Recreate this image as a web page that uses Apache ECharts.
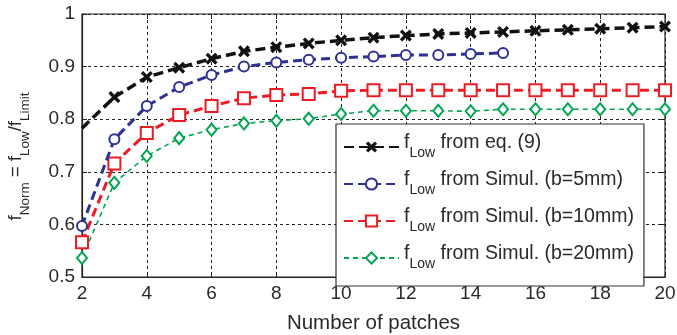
<!DOCTYPE html>
<html><head><meta charset="utf-8">
<script src="https://cdn.jsdelivr.net/npm/echarts@6/dist/echarts.min.js"></script>
<style>html,body{margin:0;padding:0;background:#fff}#c{width:677px;height:335px}</style>
</head><body><div id="c"></div>
<script>
const patchesEq = [2,3,4,5,6,7,8,9,10,11,12,13,14,15,16,17,18,19,20];
const eqValues = [0.783,0.842,0.880,0.898,0.915,0.929,0.937,0.944,0.950,0.955,0.959,0.962,0.964,0.966,0.968,0.970,0.972,0.974,0.976];
const patches5 = [2,3,4,5,6,7,8,9,10,11,12,13,14,15];
const sim5Values = [0.597,0.762,0.825,0.861,0.884,0.900,0.908,0.913,0.917,0.919,0.922,0.922,0.924,0.926];
const patches10 = [2,3,4,5,6,7,8,9,10,11,12,13,14,15,16,17,18,19,20];
const sim10Values = [0.566,0.716,0.774,0.808,0.825,0.840,0.846,0.848,0.854,0.855,0.855,0.855,0.855,0.855,0.855,0.855,0.855,0.855,0.855];
const patches20 = [2,3,4,5,6,7,8,9,10,11,12,13,14,15,16,17,18,19,20];
const sim20Values = [0.536,0.679,0.730,0.764,0.780,0.792,0.797,0.801,0.810,0.816,0.816,0.816,0.815,0.819,0.819,0.819,0.819,0.819,0.819];
const seriesNames = ['eq','s5','s10','s20'];
const legendTexts = {eq:' from eq. (9)', s5:' from Simul. (b=5mm)', s10:' from Simul. (b=10mm)', s20:' from Simul. (b=20mm)'};
const xTicks = {min:2, max:20, step:2};
const yTicks = {min:0.5, max:1, step:0.1};

const FONT = 'Liberation Sans, Arial, sans-serif';
const TXT = '#2a2a2a';
const xPath = 'path://M0,2 L2,0 L5,3 L8,0 L10,2 L7,5 L10,8 L8,10 L5,7 L2,10 L0,8 L3,5 Z';
const pairs = (xs, ys) => xs.map((x,i)=>[x, ys[i]]);
const mkRich = (main, sub, pad, lh) => ({
  a:{fontSize:main, fontFamily:FONT, color:TXT, verticalAlign:'top'},
  s:{fontSize:sub, fontFamily:FONT, color:TXT, verticalAlign:'top', lineHeight:lh, padding:[pad,0,0,0]}
});
const chart = echarts.init(document.getElementById('c'));
const eqData = pairs(patchesEq, eqValues).map((p,i)=> i===0 ? {value:p, symbol:'none'} : p);
chart.setOption({
  animation:false,
  grid:{left:82, right:12, top:14, bottom:58, show:true, borderColor:'#222', borderWidth:1.2,
    containLabel:false, outerBoundsMode:'none'},
  xAxis:[{type:'value', min:xTicks.min, max:xTicks.max, interval:xTicks.step,
    name:'Number of patches', nameLocation:'middle', nameGap:36,
    nameTextStyle:{fontSize:20.5, fontFamily:FONT, color:TXT},
    axisLine:{lineStyle:{color:'#222', width:1.2}},
    axisTick:{inside:true, length:5, lineStyle:{color:'#222'}},
    axisLabel:{fontSize:19, fontFamily:FONT, color:TXT, margin:7},
    splitLine:{lineStyle:{type:[3,3], color:'#222', width:1}}},
   {type:'value', position:'top', min:xTicks.min, max:xTicks.max, interval:xTicks.step,
    axisLine:{show:false}, axisTick:{inside:true, length:5, lineStyle:{color:'#222'}},
    axisLabel:{show:false}, splitLine:{show:false}}],
  yAxis:[{type:'value', min:yTicks.min, max:yTicks.max, interval:yTicks.step,
    name:'{a|f}{s|Norm}{a| = f}{s|Low}{a|/f}{s|Limit}', nameLocation:'middle', nameGap:47.5, nameRotate:90,
    nameTextStyle:{rich:mkRich(18.5, 13.5, 12, 28), padding:[0,22,0,0]},
    axisLine:{lineStyle:{color:'#222', width:1.2}},
    axisTick:{inside:true, length:5, lineStyle:{color:'#222'}},
    axisLabel:{fontSize:19, fontFamily:FONT, color:TXT, margin:7, formatter:v=> Math.abs(v-1)<1e-9 ? '1' : v.toFixed(1)},
    splitLine:{lineStyle:{type:[3,3], color:'#222', width:1}}},
   {type:'value', position:'right', min:yTicks.min, max:yTicks.max, interval:yTicks.step,
    axisLine:{show:false}, axisTick:{inside:true, length:5, lineStyle:{color:'#222'}},
    axisLabel:{show:false}, splitLine:{show:false}}],
  legend:{orient:'vertical', left:336, top:124, itemWidth:55, itemHeight:14, itemGap:10,
    padding:[9,10,15,7], backgroundColor:'#fff', borderColor:'#333', borderWidth:1.2,
    data:seriesNames,
    formatter: n => '{a|f}{s|Low}{a|' + legendTexts[n] + '}',
    textStyle:{rich:mkRich(19.5, 14, 13, 28)}},
  series:[
    {name:'eq', type:'line', data:eqData, symbol:xPath, symbolSize:12,
     lineStyle:{color:'#111', width:3.5, type:[10,5]}, itemStyle:{color:'#111'}, z:5},
    {name:'s5', type:'line', data:pairs(patches5, sim5Values), symbol:'emptyCircle', symbolSize:10,
     lineStyle:{color:'#2e3192', width:3, type:[9,5]}, itemStyle:{color:'#2e3192', borderWidth:2.5}, z:4},
    {name:'s10', type:'line', data:pairs(patches10, sim10Values), symbol:'emptyRect', symbolSize:12,
     lineStyle:{color:'#ed1c24', width:3, type:[9,5]}, itemStyle:{color:'#ed1c24', borderWidth:3}, z:3},
    {name:'s20', type:'line', data:pairs(patches20, sim20Values), symbol:'emptyDiamond', symbolSize:[10,12],
     lineStyle:{color:'#00a651', width:1.6, type:[5,4]}, itemStyle:{color:'#00a651', borderWidth:1.8}, z:2}
  ]
});
</script></body></html>
